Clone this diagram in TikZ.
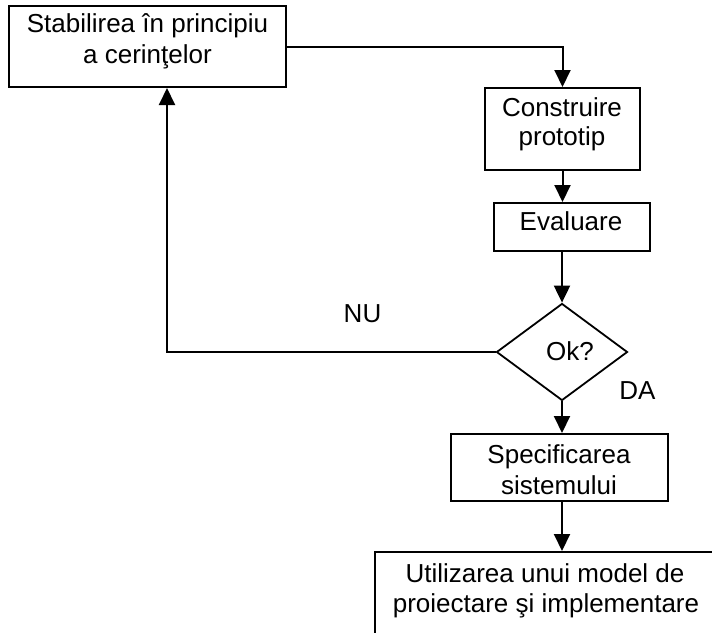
\documentclass[tikz,border=0pt]{standalone}
\usepackage{fontspec}
\setmainfont{Liberation Sans}
\usetikzlibrary{arrows.meta,shapes.geometric}
\begin{document}
\begin{tikzpicture}[x=1pt,y=-1pt,
  box/.style={draw, line width=2pt, rectangle, inner sep=0pt},
  decision/.style={draw, line width=1.8pt, diamond, inner sep=0pt},
  txt/.style={anchor=base, inner sep=0pt, font=\fontsize{26}{31}\selectfont},
  flow/.style={line width=2pt, -{Triangle[width=16pt,length=17pt]}}]
\clip (0,0) rectangle (712,632);
\fill[white] (0,0) rectangle (712,632);

% process boxes
\node[box, minimum width=277pt, minimum height=81pt] (req) at (147.5,46.5) {};
\node[box, minimum width=155pt, minimum height=82pt] (proto) at (562.5,129) {};
\node[box, minimum width=156pt, minimum height=48pt] (eval) at (572,227) {};
\node[decision, minimum width=131pt, minimum height=97pt] (ok) at (562,352) {};
\node[box, minimum width=217pt, minimum height=67pt] (spec) at (559,467.5) {};
\node[box, minimum width=341pt, minimum height=96pt] (impl) at (545.5,600) {};

% box texts
\node[txt] (req1) at (147.5,32) {Stabilirea în principiu};
\node[txt] (req2) at (147.5,63) {a cerinţelor};
\node[txt] (proto1) at (562,116) {Construire};
\node[txt] (proto2) at (562,145) {prototip};
\node[txt] (eval1) at (571,230) {Evaluare};
\node[txt] (ok1) at (570,360) {Ok?};
\node[txt] (spec1) at (559,463) {Specificarea};
\node[txt] (spec2) at (559,494) {sistemului};
\node[txt] (impl1) at (545,582) {Utilizarea unui model de};
\node[txt] (impl2) at (546,612) {proiectare şi implementare};

% branch labels
\node[txt] (no) at (362.5,322) {NU};
\node[txt] (yes) at (637.5,399) {DA};

% connectors
\draw[flow] (req.east) -| (proto.north);
\draw[flow] (proto.south) -- (proto.south |- eval.north);
\draw[flow] (ok.north |- eval.south) -- (ok.north);
\draw[flow] (ok.south) -- (ok.south |- spec.north);
\draw[flow] (ok.south |- spec.south) -- (ok.south |- impl.north);
\draw[flow] (ok.west) -| ([xshift=19.5pt]req.south);
\end{tikzpicture}
\end{document}
